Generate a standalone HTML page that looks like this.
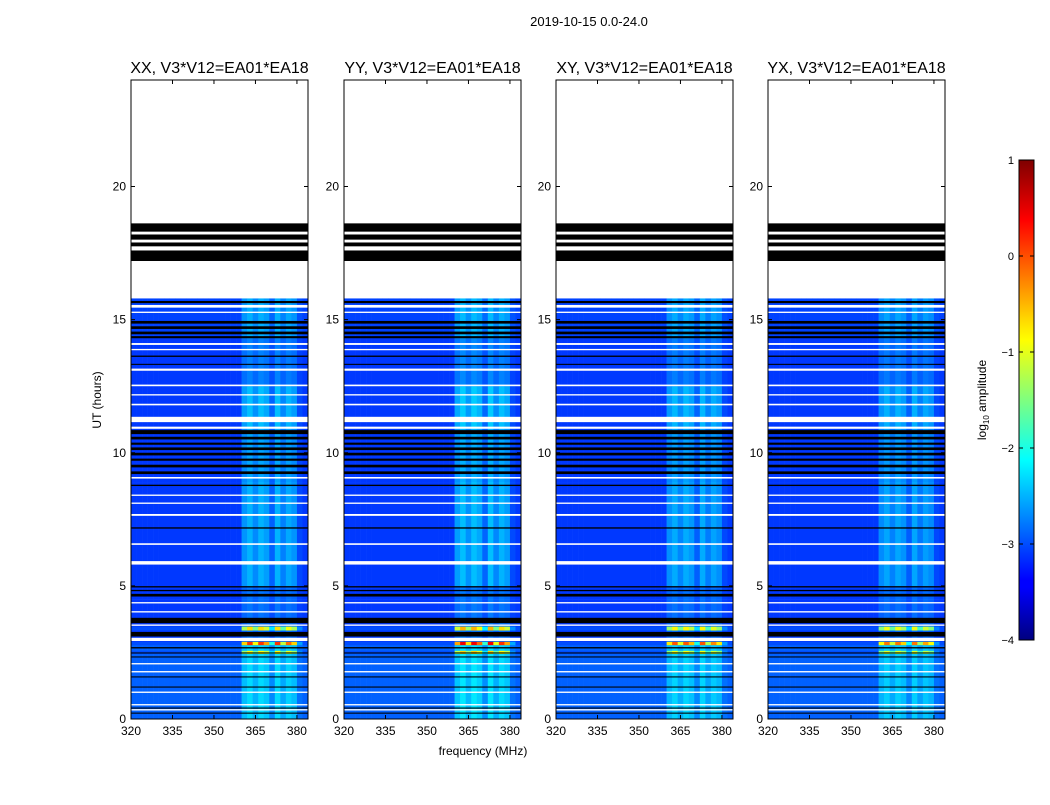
<!DOCTYPE html>
<html><head><meta charset="utf-8"><style>
body{margin:0;background:#fff;}
svg text{font-family:"Liberation Sans",sans-serif;}
</style></head><body>
<svg id="fig" width="1050" height="800" viewBox="0 0 1050 800" xmlns="http://www.w3.org/2000/svg">
<text x="589" y="26" font-size="13" text-anchor="middle">2019-10-15 0.0-24.0</text>
<text x="483" y="755" font-size="12" text-anchor="middle">frequency (MHz)</text>
<text x="0" y="0" font-size="12" text-anchor="middle" transform="translate(101,400) rotate(-90)">UT (hours)</text>
<g id="panels"></g>
<defs><linearGradient id="jet" x1="0" y1="1" x2="0" y2="0">
<stop offset="0" stop-color="#00007f"/><stop offset="0.11" stop-color="#0000ff"/><stop offset="0.125" stop-color="#0000ff"/>
<stop offset="0.34" stop-color="#00dcff"/><stop offset="0.375" stop-color="#00ffff"/><stop offset="0.5" stop-color="#7fff7f"/>
<stop offset="0.625" stop-color="#ffff00"/><stop offset="0.66" stop-color="#ffe000"/><stop offset="0.875" stop-color="#ff0000"/><stop offset="1" stop-color="#7f0000"/>
</linearGradient></defs>
<g>
<rect x="1019" y="160" width="15" height="480" fill="url(#jet)" stroke="#000" stroke-width="1"/>
<g id="cbticks"></g>
<text font-size="12" text-anchor="middle" transform="translate(986,400) rotate(-90)">log<tspan font-size="8" dy="3">10</tspan><tspan dy="-3"> amplitude</tspan></text>
</g>
</svg>
<script>
const panelTitles=["XX, V3*V12=EA01*EA18","YY, V3*V12=EA01*EA18","XY, V3*V12=EA01*EA18","YX, V3*V12=EA01*EA18"];
const panelGain=[1.0,1.1,0.95,0.9];
const xTicks=[320,335,350,365,380];
const yTicks=[0,5,10,15,20];
const cbTicks=[1,0,-1,-2,-3,-4];
// frequency bins (2 MHz each, 320-384) excess log amplitude
const freqProfile=[0,0,0,0,0,0,0,0,0,0,0,0,0,0,0,0,0,0,0,0,0.45,0.6,0.4,0.6,0.5,0.2,0.6,0.35,0.55,0.45,0.08,0];
// time zones [startHour,endHour,baseLog,signalGain]
const zones=[[0,2.8,-2.9,1.0],[2.8,4.5,-3.1,0.5],[4.5,5.0,-3.1,0.5],[5.0,8.9,-3.1,1.0],[8.9,10.9,-3.1,0.9],[10.9,12.5,-3.1,1.1],[12.5,14.3,-3.1,0.6],[14.3,15.8,-3.05,0.9],
[3.33,3.47,-3.0,3.8],[2.78,2.9,-3.0,5.2],[2.45,2.56,-3.0,3.6]];
const whiteRows=[[15.8,17.2],[18.62,24],[17.6,17.75],[17.9,18.0],[18.2,18.3],[15.45,15.55],[15.25,15.3],[14.05,14.12],[13.85,13.9],[13.08,13.16],[12.5,12.56],[12.15,12.2],[11.78,11.84],[11.15,11.35],[10.9,10.98],
[9.03,9.09],[8.38,8.43],[8.08,8.13],[7.63,7.7],[6.54,6.6],[5.8,5.93],[4.34,4.39],[4.0,4.05],[3.5,3.55],[2.93,3.05],[2.05,2.1],[1.75,1.8],[0.98,1.03],[0.51,0.56],[0.32,0.37]];
const blackRows=[[18.3,18.62],[18.0,18.2],[17.75,17.9],[17.2,17.6],[15.62,15.7],[14.85,14.95],[14.65,14.75],[14.45,14.55],[14.3,14.38],[13.6,13.65],[13.3,13.34],
[10.7,10.85],[10.5,10.6],[10.3,10.38],[10.1,10.2],[9.9,10.0],[9.7,9.78],[9.45,9.55],[9.2,9.3],[8.75,8.8],[7.15,7.2],[4.94,4.99],[4.8,4.85],[4.6,4.7],[3.6,3.8],[3.1,3.27],[2.65,2.7],[2.46,2.5],[2.31,2.35],[1.56,1.6],[1.18,1.22],[0.39,0.43],[0.2,0.24]];

const NS="http://www.w3.org/2000/svg";
const panelX=[131,344,556,768], PW=177, PT=80, PB=719;
function xs(p,f){return panelX[p]+(f-320)/64*PW;}
function ys(h){return PB-h/24*(PB-PT);}
function jet(v){let t=(v+4)/5;t=Math.max(0,Math.min(1,t));const c=x=>Math.round(255*Math.max(0,Math.min(1,1.5-Math.abs(x))));return `rgb(${c(4*t-3)},${c(4*t-2)},${c(4*t-1)})`;}
function mk(tag,attrs,parent){const e=document.createElementNS(NS,tag);for(const k in attrs)e.setAttribute(k,attrs[k]);parent.appendChild(e);return e;}
const root=document.getElementById('panels');
for(let p=0;p<4;p++){
  const g=mk('g',{},root);
  
  
  const cells=mk('g',{},g);
  
  
  zones.forEach(z=>{
    freqProfile.forEach((ex,i)=>{
      const f0=320+i*2, v=z[2]+ex*z[3]*panelGain[p];
      const r=mk('rect',{x:xs(p,f0),y:ys(z[1]),width:xs(p,f0+2)-xs(p,f0)+0.3,height:ys(z[0])-ys(z[1])+0.2,fill:jet(v)},cells);
      
      
    });
  });
  blackRows.forEach(b=>{const r=mk('rect',{x:panelX[p],y:ys(b[1]),width:PW,height:ys(b[0])-ys(b[1]),fill:'#000'},cells);
    });
  whiteRows.forEach(b=>{const r=mk('rect',{x:panelX[p],y:ys(b[1]),width:PW,height:ys(b[0])-ys(b[1]),fill:'#fff'},cells);
    });
  const fr=mk('rect',{x:panelX[p],y:PT,width:PW,height:PB-PT,fill:'none',stroke:'#000','stroke-width':1},g);
  
  const t=mk('text',{x:panelX[p]+PW/2,y:73,'font-size':16,'text-anchor':'middle'},g);
  
  t.textContent=panelTitles[p];
  xTicks.forEach(v=>{const x=xs(p,v);
    mk('line',{x1:x,x2:x,y1:PB,y2:PB-4,stroke:'#000'},g);mk('line',{x1:x,x2:x,y1:PT,y2:PT+4,stroke:'#000'},g);
    const l=mk('text',{x:x,y:PB+16,'font-size':12,'text-anchor':'middle'},g);
    l.textContent=v;});
  yTicks.forEach(v=>{const y=ys(v);
    mk('line',{x1:panelX[p],x2:panelX[p]+4,y1:y,y2:y,stroke:'#000'},g);mk('line',{x1:panelX[p]+PW,x2:panelX[p]+PW-4,y1:y,y2:y,stroke:'#000'},g);
    const l=mk('text',{x:panelX[p]-5,y:y+4,'font-size':12,'text-anchor':'end'},g);
    l.textContent=v;});
}
const cbg=document.getElementById('cbticks');
cbTicks.forEach(v=>{const y=160+(1-v)/5*480;
  mk('line',{x1:1019,x2:1023,y1:y,y2:y,stroke:'#000'},cbg);mk('line',{x1:1034,x2:1030,y1:y,y2:y,stroke:'#000'},cbg);
  const l=mk('text',{x:1014,y:y+4,'font-size':11,'text-anchor':'end'},cbg);
  
  l.textContent=v<0?'\u2212'+(-v):v;});
</script>
</body></html>
